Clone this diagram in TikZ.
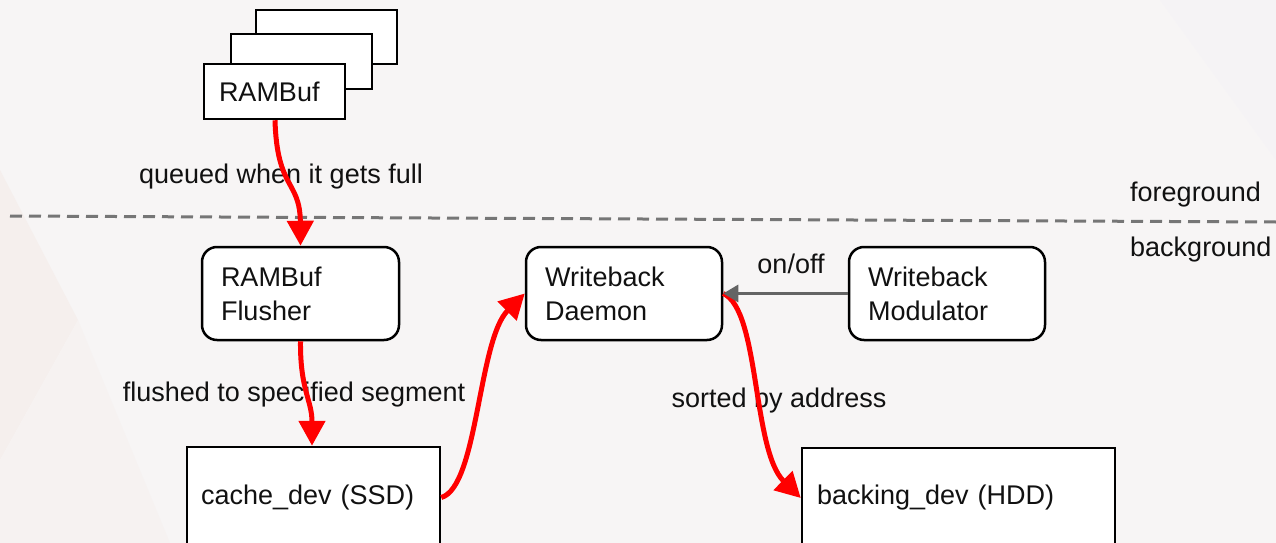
\documentclass[tikz,border=0pt]{standalone}
\usepackage{fontspec}
\setmainfont{Liberation Sans}
\usetikzlibrary{arrows.meta}
\definecolor{bgcol}{RGB}{247,245,245}
\definecolor{bgwarm}{RGB}{245,239,237}
\definecolor{bgwarm2}{RGB}{246,242,241}
\definecolor{bgcool}{RGB}{245,243,245}
\definecolor{dashgray}{RGB}{118,118,118}
\definecolor{ctrlgray}{RGB}{100,100,100}
\definecolor{flowred}{RGB}{255,0,0}
\definecolor{txt}{RGB}{17,17,17}
\begin{document}
\begin{tikzpicture}[x=1pt,y=-1pt,
  font=\fontsize{27}{34}\selectfont,
  plainbox/.style={draw=black, line width=2.5pt, fill=white, rectangle,
    inner ysep=0pt, align=left, text=txt},
  roundbox/.style={plainbox, rounded corners=15pt, minimum height=93pt,
    inner xsep=19pt, text width=158pt},
  lbl/.style={inner sep=0pt, text=txt},
  flow/.style={draw=flowred, line width=5pt,
    -{Triangle[length=25pt,width=26pt]}},
  ctrl/.style={draw=ctrlgray, line width=3pt,
    -{Triangle[length=15pt,width=17pt]}},
  divider/.style={draw=dashgray, line width=3pt, dash pattern=on 12pt off 7pt}]

% backdrop
\fill[bgcol] (0,0) rectangle (1276,543);
\useasboundingbox (0,0) rectangle (1276,543);
\fill[bgwarm] (0,170) -- (78,320) -- (0,460) -- cycle;
\fill[bgwarm2] (0,460) -- (78,320) -- (170,543) -- (0,543) -- cycle;
\fill[bgcool] (1160,0) -- (1276,0) -- (1276,160) -- cycle;

% foreground / background divider
\coordinate (divL) at (10,216);
\coordinate (divR) at (1276,222);
\draw[divider] (divL) -- (divR);
\node[lbl, anchor=west] (fg) at (1130,195) {foreground};
\node[lbl, anchor=west] (bg) at (1130,250) {background};

% stacked RAM buffers
\node[plainbox, minimum width=141pt, minimum height=54pt] (rb3) at (326.5,37) {};
\node[plainbox, minimum width=141pt, minimum height=55pt] (rb2) at (301.5,61.5) {};
\node[plainbox, minimum height=55pt, inner xsep=15pt, text width=111pt] (rambuf) at (274.5,91.5) {RAMBuf};

% background workers
\node[roundbox, minimum width=197pt, text width=159pt] (flusher) at (300.5,293.5) {RAMBuf\\Flusher};
\node[roundbox, minimum width=196pt] (daemon) at (624,293.5) {Writeback\\Daemon};
\node[roundbox, minimum width=196pt] (modulator) at (947,293.5) {Writeback\\Modulator};

% devices
\node[plainbox, minimum height=101pt, inner xsep=14pt, text width=225pt] (cache) at (313.5,497.5) {cache\_dev (SSD)};
\node[plainbox, minimum height=100pt, inner xsep=15pt, text width=283pt] (backing) at (958.5,498) {backing\_dev (HDD)};

% edge labels
\node[lbl] (lq) at (281,177) {queued when it gets full};
\node[lbl] (lf) at (294,395) {flushed to specified segment};
\node[lbl] (ls) at (779,401) {sorted by address};
\node[lbl] (lo) at (791,264) {on/off};

% data flow
\draw[flow] (rambuf.south -| 275,0) .. controls (277,190) and (300,180) .. (flusher.north);
\draw[flow] (flusher.south) .. controls (300,390) and (312,400) .. (cache.north -| 312,0);
\draw[flow] (cache.east) .. controls (478,487) and (478,340) .. (daemon.west);
\draw[flow] (daemon.east) .. controls (760,310) and (752,450) .. (backing.west);

% modulator control
\draw[ctrl] (modulator.west) -- (daemon.east);
\end{tikzpicture}
\end{document}
